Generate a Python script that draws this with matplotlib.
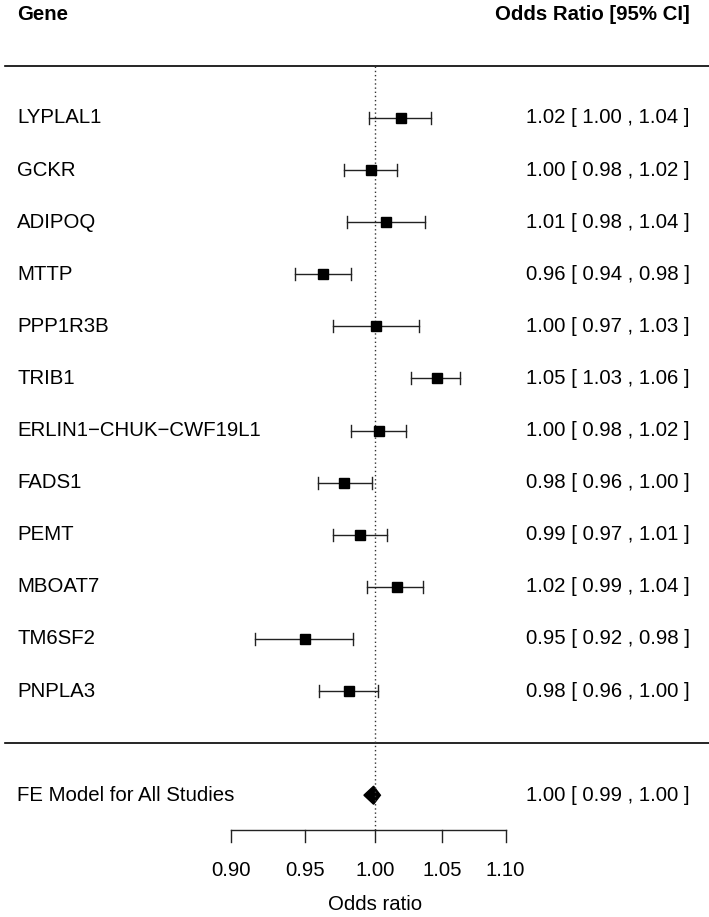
import numpy as np
import matplotlib
matplotlib.use('Agg')
import matplotlib.pyplot as plt
import matplotlib.transforms as mtransforms

plt.rcParams['font.family'] = ['Liberation Sans', 'DejaVu Sans']

genes = ["LYPLAL1", "GCKR", "ADIPOQ", "MTTP", "PPP1R3B", "TRIB1",
         "ERLIN1\u2212CHUK\u2212CWF19L1", "FADS1", "PEMT", "MBOAT7", "TM6SF2", "PNPLA3"]
est = [1.019, 0.997, 1.008, 0.963, 1.001, 1.046, 1.003, 0.978, 0.989, 1.016, 0.950, 0.981]
lo = [0.996, 0.978, 0.980, 0.943, 0.970, 1.027, 0.983, 0.959, 0.970, 0.9945, 0.916, 0.960]
hi = [1.042, 1.016, 1.037, 0.983, 1.033, 1.064, 1.023, 0.998, 1.009, 1.036, 0.984, 1.002]

fe_label = "FE Model for All Studies"
fe_est, fe_lo, fe_hi = 0.999, 0.992, 1.004

xticks = [0.90, 0.95, 1.00, 1.05, 1.10]

fig = plt.figure(figsize=(7.09, 9.17), dpi=100)
ax = fig.add_axes([0, 0, 1, 1])
ax.set_xscale('log')
ax.set_xlim(0.7606, 1.2761)
ax.set_ylim(-3.338, 14.265)
ax.axis('off')

k = len(genes)
rows = np.arange(k, 0, -1)
fs = 14.7
trans = mtransforms.blended_transform_factory(ax.transAxes, ax.transData)
xl, xr = 17 / 709, 690 / 709

# header
ax.text(xl, k + 1.98, "Gene", transform=trans, ha='left', va='center',
        fontsize=fs, fontweight='bold')
ax.text(xr, k + 1.98, "Odds Ratio [95% CI]", transform=trans, ha='right', va='center',
        fontsize=fs, fontweight='bold')

# separating lines
ax.plot([5 / 709, 1], [k + 1, k + 1], transform=trans, color='black', lw=1.2)
ax.plot([5 / 709, 1], [0, 0], transform=trans, color='black', lw=1.2)

# reference line
y_axis = -1.668
ax.plot([1, 1], [y_axis, k + 1], color='#333333', lw=1.0, ls=(0, (1, 2)))

cap = 0.115
for r, g, e, l, h in zip(rows, genes, est, lo, hi):
    ax.plot([l, h], [r, r], color='#222222', lw=1.0)
    ax.plot([l, l], [r - cap, r + cap], color='#222222', lw=1.0)
    ax.plot([h, h], [r - cap, r + cap], color='#222222', lw=1.0)
    ax.plot([e], [r], marker='s', ms=7, color='black', mec='black')
    ax.text(xl, r, g, transform=trans, ha='left', va='center', fontsize=fs)
    ax.text(xr, r, f"{e:.2f} [ {l:.2f} , {h:.2f} ]", transform=trans,
            ha='right', va='center', fontsize=fs)

# summary diamond
ry = -1
dh = 0.173
ax.fill([fe_lo, fe_est, fe_hi, fe_est], [ry, ry + dh, ry, ry - dh], color='black')
ax.text(xl, ry, fe_label, transform=trans, ha='left', va='center', fontsize=fs)
ax.text(xr, ry, f"{fe_est:.2f} [ {fe_lo:.2f} , {fe_hi:.2f} ]", transform=trans,
        ha='right', va='center', fontsize=fs)

# x axis
ax.plot([xticks[0], xticks[-1]], [y_axis, y_axis], color='#222222', lw=1.0)
for t in xticks:
    ax.plot([t, t], [y_axis, y_axis - 0.228], color='#222222', lw=1.0)
    ax.text(t, -2.436, f"{t:.2f}", ha='center', va='center', fontsize=fs)
ax.text(1.0, -3.107, "Odds ratio", ha='center', va='center', fontsize=fs)

fig.savefig('out.png', dpi=100)
